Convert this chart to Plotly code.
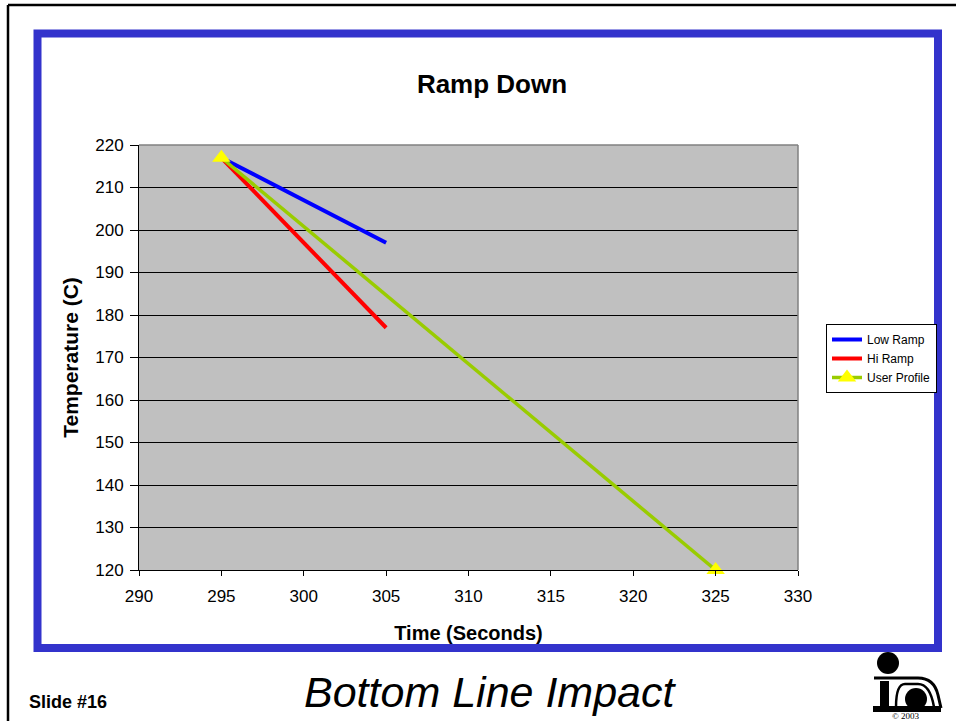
import plotly.graph_objects as go

# ---- data ----
low_time = [295, 305]
low_temp = [217, 197]
hi_time = [295, 305]
hi_temp = [217, 177]
user_time = [295, 325]
user_temp = [217, 120]

x_ticks = [290, 295, 300, 305, 310, 315, 320, 325, 330]
y_ticks = [120, 130, 140, 150, 160, 170, 180, 190, 200, 210, 220]

W, H = 956, 721
L, R, T, B = 139, 798, 145, 570
PW, PH = R - L, B - T

def px(x):
    return (x - L) / PW

def py(y):
    return (B - y) / PH

FONT = "Arial, Liberation Sans, sans-serif"

fig = go.Figure()
fig.add_trace(go.Scatter(x=low_time, y=low_temp, mode="lines", name="Low Ramp",
                         line=dict(color="#0000FF", width=4)))
fig.add_trace(go.Scatter(x=hi_time, y=hi_temp, mode="lines", name="Hi Ramp",
                         line=dict(color="#FF0000", width=4)))
fig.add_trace(go.Scatter(x=user_time, y=user_temp, mode="lines+markers", name="User Profile",
                         line=dict(color="#99CC00", width=3.5), cliponaxis=False,
                         marker=dict(symbol="triangle-up", size=16, color="#FFFF00",
                                     line=dict(width=0))))

shapes = []
# black slide frame (top + left)
shapes.append(dict(type="line", xref="paper", yref="paper", x0=px(8), x1=px(960), y0=py(5), y1=py(5),
                   line=dict(color="black", width=2.5)))
shapes.append(dict(type="line", xref="paper", yref="paper", x0=px(8), x1=px(8), y0=py(5), y1=py(725),
                   line=dict(color="black", width=2.5)))
# blue frame
shapes.append(dict(type="rect", xref="paper", yref="paper", x0=px(37.5), x1=px(938), y0=py(33.5), y1=py(648),
                   line=dict(color="#3333CC", width=8)))
# plot area top/right gray border
shapes.append(dict(type="line", xref="paper", yref="paper", x0=0, x1=1, y0=1, y1=1,
                   line=dict(color="#808080", width=1.5)))
shapes.append(dict(type="line", xref="paper", yref="paper", x0=1, x1=1, y0=0, y1=1,
                   line=dict(color="#808080", width=1.5)))
# logo
shapes.append(dict(type="circle", xref="paper", yref="paper", x0=px(877), x1=px(899), y0=py(652), y1=py(674),
                   fillcolor="black", line=dict(width=0)))
shapes.append(dict(type="path", xref="paper", yref="paper",
                   path="M {0} {1} L {2} {1} Q {3} {1} {4} {5} L {6} {7}".format(
                       px(874), py(678), px(918), px(934), px(938), py(695), px(941), py(708)),
                   line=dict(color="black", width=3)))
shapes.append(dict(type="path", xref="paper", yref="paper",
                   path="M {0} {1} Q {0} {2} {3} {2} L {4} {2} Q {5} {2} {6} {1}".format(
                       px(896), py(707), py(684), px(905), px(918), px(930), px(934)),
                   line=dict(color="black", width=2.5)))
shapes.append(dict(type="rect", xref="paper", yref="paper", x0=px(880), x1=px(889), y0=py(681), y1=py(707),
                   fillcolor="black", line=dict(width=0)))
shapes.append(dict(type="circle", xref="paper", yref="paper", x0=px(905), x1=px(927), y0=py(688), y1=py(710),
                   fillcolor="black", line=dict(width=0)))
shapes.append(dict(type="rect", xref="paper", yref="paper", x0=px(873), x1=px(941), y0=py(706), y1=py(712),
                   fillcolor="black", line=dict(width=0)))

annotations = [
    dict(text="<i>Bottom Line Impact</i>", xref="paper", yref="paper", x=px(490), y=py(692),
         xanchor="center", yanchor="middle", showarrow=False,
         font=dict(family=FONT, size=43, color="black")),
    dict(text="<b>Slide #16</b>", xref="paper", yref="paper", x=px(27), y=py(702),
         xanchor="left", yanchor="middle", showarrow=False,
         font=dict(family=FONT, size=18, color="black")),
    dict(text="© 2003", xref="paper", yref="paper", x=px(906), y=py(716),
         xanchor="center", yanchor="middle", showarrow=False,
         font=dict(family="Liberation Serif, Times New Roman, serif", size=9, color="black")),
]

fig.update_layout(
    width=W, height=H,
    margin=dict(l=L, r=W - R, t=T, b=H - B, pad=0),
    paper_bgcolor="white",
    plot_bgcolor="#C0C0C0",
    font=dict(family=FONT, color="black"),
    title=dict(text="<b>Ramp Down</b>", x=492 / W, xanchor="center", xref="container",
               y=1 - 84 / H, yanchor="middle", yref="container",
               font=dict(family=FONT, size=26, color="black")),
    xaxis=dict(range=[290, 330], tickvals=x_ticks, ticktext=[str(v) for v in x_ticks],
               showgrid=False, zeroline=False, showline=True, linecolor="black", linewidth=1,
               ticks="outside", ticklen=5, tickcolor="black", ticklabelstandoff=6,
               tickfont=dict(family=FONT, size=17, color="black"),
               title=dict(text="<b>Time (Seconds)</b>", font=dict(family=FONT, size=20, color="black"),
                          standoff=20)),
    yaxis=dict(range=[120, 220], tickvals=y_ticks, ticktext=[str(v) for v in y_ticks],
               showgrid=True, gridcolor="black", gridwidth=1, zeroline=False,
               showline=True, linecolor="black", linewidth=1,
               ticks="outside", ticklen=8, tickcolor="black", ticklabelstandoff=3,
               tickfont=dict(family=FONT, size=17, color="black"),
               title=dict(text="<b>Temperature (C)</b>", font=dict(family=FONT, size=21, color="black"),
                          standoff=10)),
    legend=dict(x=px(826), y=py(324), xanchor="left", yanchor="top",
                bgcolor="white", bordercolor="black", borderwidth=1,
                font=dict(family=FONT, size=12, color="black"),
                tracegroupgap=0, itemwidth=30),
    shapes=shapes,
    annotations=annotations,
    showlegend=True,
)

fig.write_html("out.html")
